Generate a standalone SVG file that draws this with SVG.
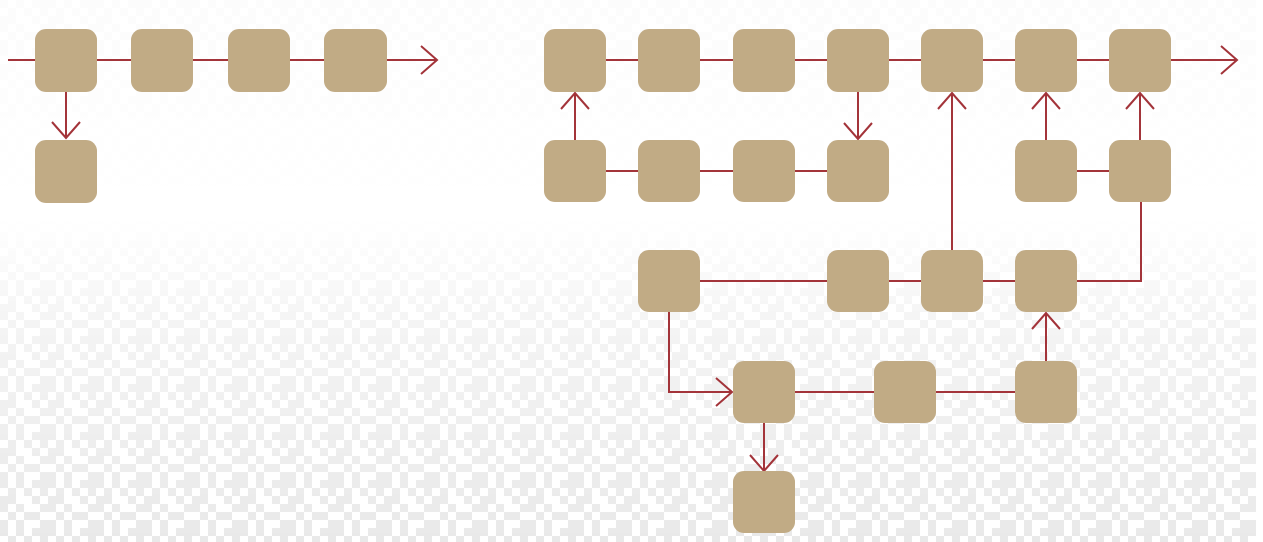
<svg xmlns="http://www.w3.org/2000/svg" width="1263" height="542" viewBox="0 0 1263 542">
<style>
.n{fill:#C1AB85}
.c{fill:none;stroke:#A3343A;stroke-width:2}
</style>
<defs>
<marker id="ah" markerUnits="userSpaceOnUse" markerWidth="40" markerHeight="40" refX="0" refY="0" viewBox="-20 -20 40 40" orient="auto" overflow="visible">
<path d="M-16,-14 L0,0 L-16,14" fill="none" stroke="#A3343A" stroke-width="2"/>
</marker>
<pattern id="px" width="48" height="48" patternUnits="userSpaceOnUse">
<g fill="#e9e9e9">
<rect x="0" y="0" width="8" height="8"/><rect x="16" y="0" width="8" height="8"/><rect x="32" y="0" width="16" height="8"/>
<rect x="8" y="8" width="8" height="8"/><rect x="24" y="8" width="8" height="8"/><rect x="40" y="8" width="8" height="8"/>
<rect x="0" y="16" width="16" height="8"/><rect x="32" y="16" width="8" height="8"/>
<rect x="16" y="24" width="8" height="8"/><rect x="40" y="24" width="8" height="8"/><rect x="0" y="24" width="8" height="8"/>
<rect x="8" y="32" width="8" height="8"/><rect x="24" y="32" width="16" height="8"/>
<rect x="0" y="40" width="8" height="8"/><rect x="16" y="40" width="8" height="8"/><rect x="40" y="40" width="8" height="8"/>
</g>
</pattern>
<linearGradient id="fade" x1="0" y1="0" x2="0" y2="1">
<stop offset="0" stop-color="#fff" stop-opacity="0.15"/>
<stop offset="0.4" stop-color="#fff" stop-opacity="0"/>
<stop offset="0.6" stop-color="#fff" stop-opacity="0.5"/>
<stop offset="1" stop-color="#fff" stop-opacity="1"/>
</linearGradient>
<mask id="m"><rect x="0" y="0" width="1263" height="542" fill="url(#fade)"/></mask>
</defs>
<rect x="0" y="0" width="1263" height="542" fill="#ffffff"/>
<rect x="0" y="0" width="1256" height="542" fill="url(#px)" mask="url(#m)"/>
<g id="connectors">
<path class="c" d="M8,60 H437" marker-end="url(#ah)"/>
<path class="c" d="M66,92 V138" marker-end="url(#ah)"/>
<path class="c" d="M575,60 H1237" marker-end="url(#ah)"/>
<path class="c" d="M575,171 V93" marker-end="url(#ah)"/>
<path class="c" d="M858,60 V139" marker-end="url(#ah)"/>
<path class="c" d="M575,171 H858"/>
<path class="c" d="M1046,171 H1140"/>
<path class="c" d="M1046,171 V93" marker-end="url(#ah)"/>
<path class="c" d="M1140,171 V93" marker-end="url(#ah)"/>
<path class="c" d="M669,281 H1141 V171"/>
<path class="c" d="M952,281 V93" marker-end="url(#ah)"/>
<path class="c" d="M669,281 V392 H732" marker-end="url(#ah)"/>
<path class="c" d="M764,392 H1046"/>
<path class="c" d="M1046,392 V313" marker-end="url(#ah)"/>
<path class="c" d="M764,392 V471" marker-end="url(#ah)"/>
</g>
<g id="n1"><rect class="n" x="35" y="29" width="62" height="63" rx="11"/></g>
<g id="n2"><rect class="n" x="131" y="29" width="62" height="63" rx="11"/></g>
<g id="n3"><rect class="n" x="228" y="29" width="62" height="63" rx="11"/></g>
<g id="n4"><rect class="n" x="324" y="29" width="63" height="63" rx="11"/></g>
<g id="n5"><rect class="n" x="35" y="140" width="62" height="63" rx="11"/></g>
<g id="r1a"><rect class="n" x="544" y="29" width="62" height="63" rx="11"/></g>
<g id="r1b"><rect class="n" x="638" y="29" width="62" height="63" rx="11"/></g>
<g id="r1c"><rect class="n" x="733" y="29" width="62" height="63" rx="11"/></g>
<g id="r1d"><rect class="n" x="827" y="29" width="62" height="63" rx="11"/></g>
<g id="r1e"><rect class="n" x="921" y="29" width="62" height="63" rx="11"/></g>
<g id="r1f"><rect class="n" x="1015" y="29" width="62" height="63" rx="11"/></g>
<g id="r1g"><rect class="n" x="1109" y="29" width="62" height="63" rx="11"/></g>
<g id="r2a"><rect class="n" x="544" y="140" width="62" height="62" rx="11"/></g>
<g id="r2b"><rect class="n" x="638" y="140" width="62" height="62" rx="11"/></g>
<g id="r2c"><rect class="n" x="733" y="140" width="62" height="62" rx="11"/></g>
<g id="r2d"><rect class="n" x="827" y="140" width="62" height="62" rx="11"/></g>
<g id="r2f"><rect class="n" x="1015" y="140" width="62" height="62" rx="11"/></g>
<g id="r2g"><rect class="n" x="1109" y="140" width="62" height="62" rx="11"/></g>
<g id="r3b"><rect class="n" x="638" y="250" width="62" height="62" rx="11"/></g>
<g id="r3d"><rect class="n" x="827" y="250" width="62" height="62" rx="11"/></g>
<g id="r3e"><rect class="n" x="921" y="250" width="62" height="62" rx="11"/></g>
<g id="r3f"><rect class="n" x="1015" y="250" width="62" height="62" rx="11"/></g>
<g id="r4c"><rect class="n" x="733" y="361" width="62" height="62" rx="11"/></g>
<g id="r4m"><rect class="n" x="874" y="361" width="62" height="62" rx="11"/></g>
<g id="r4f"><rect class="n" x="1015" y="361" width="62" height="62" rx="11"/></g>
<g id="r5c"><rect class="n" x="733" y="471" width="62" height="62" rx="11"/></g>
</svg>
